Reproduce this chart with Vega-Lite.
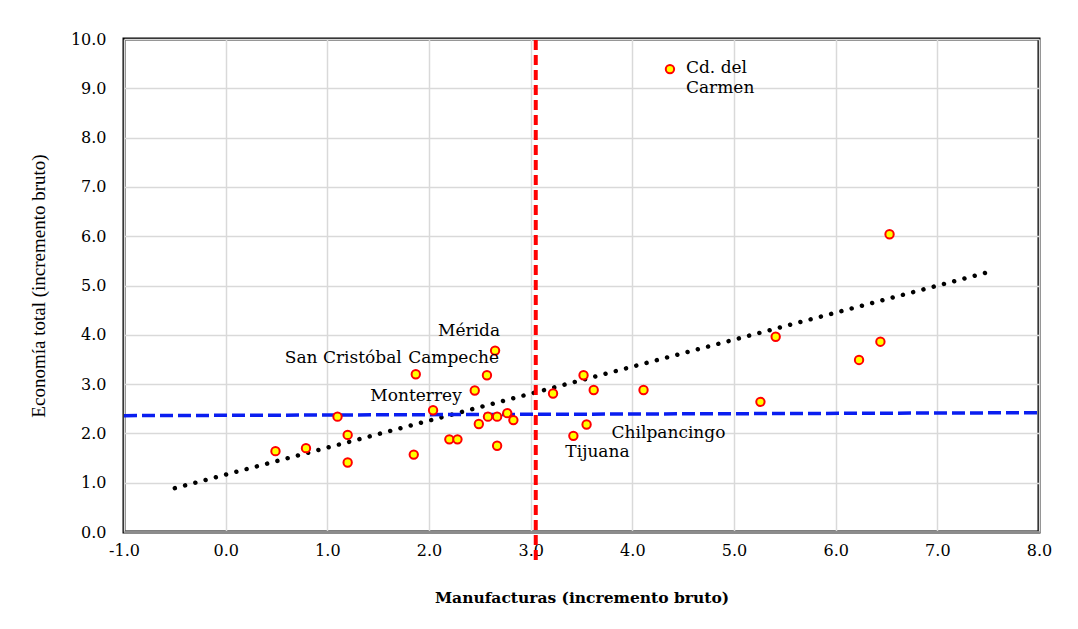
{
  "$schema": "https://vega.github.io/schema/vega-lite/v6.json",
  "autosize": {"type": "none"},
  "width": 915,
  "height": 493,
  "padding": {"left": 124, "top": 39, "right": 39, "bottom": 97},
  "background": "white",
  "config": {
    "font": "DejaVu Serif",
    "view": {"stroke": "black", "strokeWidth": 3},
    "axis": {
      "labelColor": "black",
      "titleColor": "black",
      "gridColor": "#d9d9d9",
      "gridWidth": 1.5,
      "ticks": false
    }
  },
  "datasets": {
    "ciudades": [
      {"manuf": 0.49, "total": 1.64, "nombre": ""},
      {"manuf": 0.79, "total": 1.70, "nombre": ""},
      {"manuf": 1.10, "total": 2.34, "nombre": ""},
      {"manuf": 1.20, "total": 1.97, "nombre": ""},
      {"manuf": 1.20, "total": 1.41, "nombre": ""},
      {"manuf": 1.85, "total": 1.57, "nombre": ""},
      {"manuf": 1.87, "total": 3.20, "nombre": "San Cristóbal"},
      {"manuf": 2.04, "total": 2.47, "nombre": ""},
      {"manuf": 2.20, "total": 1.88, "nombre": ""},
      {"manuf": 2.28, "total": 1.88, "nombre": ""},
      {"manuf": 2.45, "total": 2.87, "nombre": "Monterrey"},
      {"manuf": 2.49, "total": 2.19, "nombre": ""},
      {"manuf": 2.57, "total": 3.18, "nombre": "Campeche"},
      {"manuf": 2.58, "total": 2.34, "nombre": ""},
      {"manuf": 2.65, "total": 3.68, "nombre": "Mérida"},
      {"manuf": 2.67, "total": 2.34, "nombre": ""},
      {"manuf": 2.67, "total": 1.75, "nombre": ""},
      {"manuf": 2.77, "total": 2.41, "nombre": ""},
      {"manuf": 2.83, "total": 2.27, "nombre": ""},
      {"manuf": 3.22, "total": 2.81, "nombre": ""},
      {"manuf": 3.42, "total": 1.95, "nombre": "Tijuana"},
      {"manuf": 3.52, "total": 3.18, "nombre": ""},
      {"manuf": 3.55, "total": 2.18, "nombre": "Chilpancingo"},
      {"manuf": 3.62, "total": 2.88, "nombre": ""},
      {"manuf": 4.11, "total": 2.88, "nombre": ""},
      {"manuf": 4.37, "total": 9.39, "nombre": "Cd. del\nCarmen"},
      {"manuf": 5.26, "total": 2.64, "nombre": ""},
      {"manuf": 5.41, "total": 3.96, "nombre": ""},
      {"manuf": 6.23, "total": 3.49, "nombre": ""},
      {"manuf": 6.44, "total": 3.86, "nombre": ""},
      {"manuf": 6.53, "total": 6.04, "nombre": ""}
    ],
    "tendencia": [
      {"manuf": -0.5, "total": 0.89},
      {"manuf": 7.5, "total": 5.27}
    ],
    "promedio_total": [
      {"manuf": -1.0, "total": 2.36},
      {"manuf": 8.0, "total": 2.42}
    ],
    "promedio_manuf": [
      {"manuf": 3.05, "total": -0.57},
      {"manuf": 3.05, "total": 10.08}
    ]
  },
  "encoding": {
    "x": {
      "field": "manuf",
      "type": "quantitative",
      "scale": {"domain": [-1, 8], "nice": false, "zero": false},
      "axis": {
        "title": "Manufacturas (incremento bruto)",
        "titleFont": "DejaVu Serif",
        "titleFontSize": 15.5,
        "titleFontWeight": "bold",
        "titlePadding": 32,
        "labelFont": "DejaVu Serif",
        "labelFontSize": 16,
        "labelExpr": "replace(format(datum.value, '.1f'), '−', '-')",
        "values": [-1, 0, 1, 2, 3, 4, 5, 6, 7, 8],
        "labelOverlap": false,
        "labelPadding": 10,
        "domainColor": "#8c8c8c",
        "domainWidth": 3,
        "labelFlush": false
      }
    },
    "y": {
      "field": "total",
      "type": "quantitative",
      "scale": {"domain": [0, 10], "nice": false},
      "axis": {
        "title": "Economía total (incremento bruto)",
        "titleFont": "Liberation Serif",
        "titleFontSize": 19,
        "titleFontWeight": "normal",
        "titlePadding": 22,
        "labelFont": "DejaVu Serif",
        "labelFontSize": 16,
        "format": ".1f",
        "values": [0, 1, 2, 3, 4, 5, 6, 7, 8, 9, 10],
        "labelOverlap": false,
        "labelPadding": 18,
        "domain": false,
        "labelFlush": false
      }
    }
  },
  "layer": [
    {
      "data": {"name": "tendencia"},
      "mark": {"type": "line", "color": "black", "strokeWidth": 4.5, "strokeDash": [0.01, 10.6], "strokeCap": "round"}
    },
    {
      "data": {"name": "promedio_total"},
      "mark": {"type": "line", "color": "#0a1ef0", "strokeWidth": 3.5, "strokeDash": [13, 5]}
    },
    {
      "data": {"name": "promedio_manuf"},
      "mark": {"type": "line", "color": "#ff0000", "strokeWidth": 4, "strokeDash": [10, 5], "orient": "vertical"}
    },
    {
      "data": {"name": "ciudades"},
      "mark": {"type": "point", "filled": true, "fill": "#ffff00", "stroke": "#ff0000", "strokeWidth": 2, "size": 70, "opacity": 1}
    },
    {
      "data": {"name": "ciudades"},
      "transform": [{"filter": "datum.nombre == 'Mérida'"}],
      "mark": {"type": "text", "fontSize": 17, "align": "center", "baseline": "middle", "dx": -26, "dy": -20},
      "encoding": {"text": {"field": "nombre"}}
    },
    {
      "data": {"name": "ciudades"},
      "transform": [{"filter": "datum.nombre == 'San Cristóbal'"}],
      "mark": {"type": "text", "fontSize": 17, "align": "right", "baseline": "middle", "dx": -14, "dy": -16},
      "encoding": {"text": {"field": "nombre"}}
    },
    {
      "data": {"name": "ciudades"},
      "transform": [{"filter": "datum.nombre == 'Campeche'"}],
      "mark": {"type": "text", "fontSize": 17, "align": "right", "baseline": "middle", "dx": 12, "dy": -17},
      "encoding": {"text": {"field": "nombre"}}
    },
    {
      "data": {"name": "ciudades"},
      "transform": [{"filter": "datum.nombre == 'Monterrey'"}],
      "mark": {"type": "text", "fontSize": 17, "align": "right", "baseline": "middle", "dx": -13, "dy": 5},
      "encoding": {"text": {"field": "nombre"}}
    },
    {
      "data": {"name": "ciudades"},
      "transform": [{"filter": "datum.nombre == 'Chilpancingo'"}],
      "mark": {"type": "text", "fontSize": 17, "align": "left", "baseline": "middle", "dx": 25, "dy": 8},
      "encoding": {"text": {"field": "nombre"}}
    },
    {
      "data": {"name": "ciudades"},
      "transform": [{"filter": "datum.nombre == 'Tijuana'"}],
      "mark": {"type": "text", "fontSize": 17, "align": "left", "baseline": "middle", "dx": -8, "dy": 16},
      "encoding": {"text": {"field": "nombre"}}
    },
    {
      "data": {"name": "ciudades"},
      "transform": [{"filter": "datum.nombre == 'Cd. del\\nCarmen'"}],
      "mark": {"type": "text", "fontSize": 17, "align": "left", "baseline": "top", "dx": 16, "dy": -9, "lineBreak": "\n", "lineHeight": 20},
      "encoding": {"text": {"field": "nombre"}}
    }
  ]
}
